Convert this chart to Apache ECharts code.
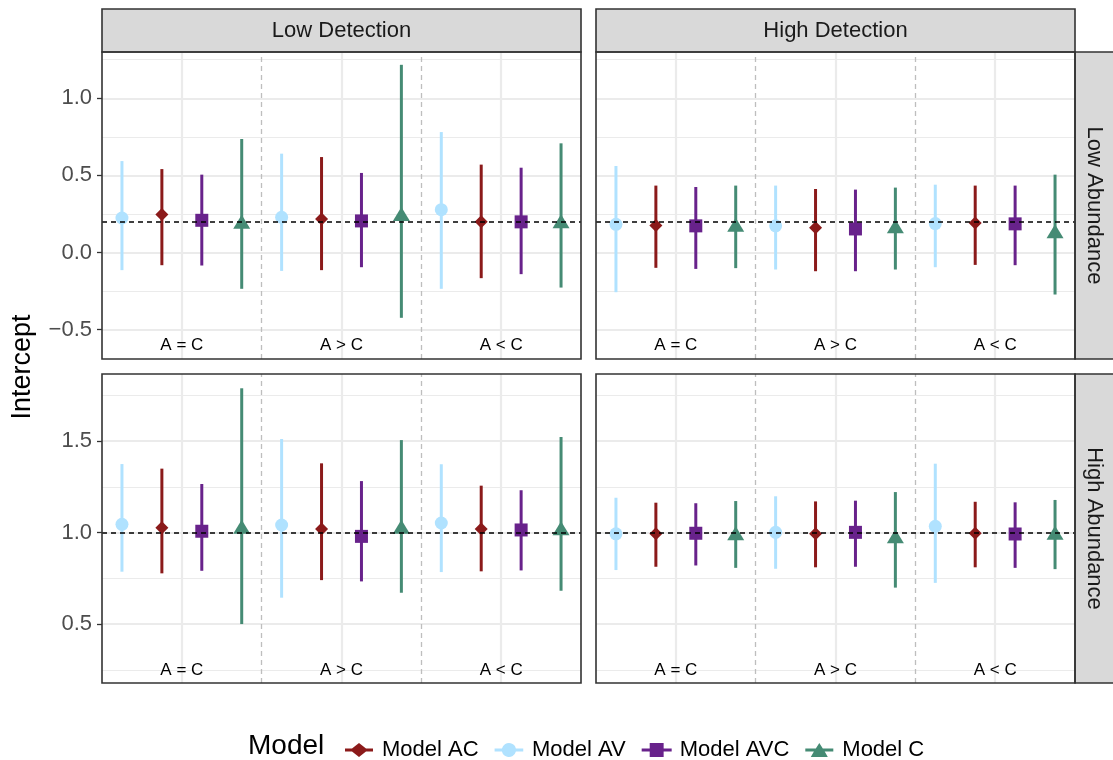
<!DOCTYPE html>
<html><head><meta charset="utf-8">
<script src="https://cdn.jsdelivr.net/npm/echarts@6/dist/echarts.min.js"></script>
<style>html,body{margin:0;padding:0;background:#fff}#c{width:1113px;height:760px}</style>
</head><body><div id="c"></div>
<script>
// ---------- data ----------
const categories = ['A = C', 'A > C', 'A < C'];
const detection = ['Low Detection', 'High Detection'];
const abundance = ['Low Abundance', 'High Abundance'];
const modelsDodge = ['Model AV', 'Model AC', 'Model AVC', 'Model C'];
const legendOrder = ['Model AC', 'Model AV', 'Model AVC', 'Model C'];
// panels: 0 = LowDet/LowAb, 1 = HighDet/LowAb, 2 = LowDet/HighAb, 3 = HighDet/HighAb
const trueIntercept = [0.2, 0.2, 1.0, 1.0];
const yTicksLowAb = [-0.5, 0.0, 0.5, 1.0];
const yTicksHighAb = [0.5, 1.0, 1.5];
// each array: 4 panels x 3 categories (A = C, A > C, A < C)
const AV_mid = [0.224, 0.229, 0.278,  0.183, 0.173, 0.188,  1.045, 1.041, 1.052,  0.993, 1.001, 1.034];
const AV_lo  = [-0.114, -0.119, -0.235, -0.257, -0.110, -0.095, 0.786, 0.644, 0.784, 0.795, 0.802, 0.725];
const AV_hi  = [0.593, 0.641, 0.781,  0.561, 0.434, 0.440,  1.374, 1.511, 1.373,  1.190, 1.198, 1.376];
const AC_mid = [0.246, 0.218, 0.199,  0.175, 0.160, 0.192,  1.026, 1.019, 1.019,  0.993, 0.993, 0.996];
const AC_lo  = [-0.082, -0.114, -0.166, -0.099, -0.121, -0.080, 0.777, 0.740, 0.788, 0.813, 0.810, 0.810];
const AC_hi  = [0.541, 0.619, 0.570,  0.434, 0.412, 0.434,  1.349, 1.378, 1.256,  1.163, 1.170, 1.168];
const AVC_mid = [0.209, 0.205, 0.199, 0.173, 0.153, 0.186,  1.007, 0.979, 1.014,  0.996, 1.001, 0.992];
const AVC_lo  = [-0.084, -0.095, -0.140, -0.106, -0.121, -0.082, 0.791, 0.733, 0.793, 0.820, 0.813, 0.807];
const AVC_hi  = [0.505, 0.516, 0.550, 0.425, 0.408, 0.434,  1.265, 1.281, 1.231,  1.160, 1.174, 1.165];
const C_mid = [0.200, 0.250, 0.203,  0.181, 0.170, 0.138,  1.032, 1.032, 1.023,  0.996, 0.979, 0.999];
const C_lo  = [-0.235, -0.423, -0.227, -0.101, -0.110, -0.272, 0.500, 0.671, 0.682, 0.807, 0.699, 0.800];
const C_hi  = [0.736, 1.217, 0.708,  0.434, 0.421, 0.505,  1.788, 1.505, 1.522,  1.172, 1.221, 1.178];

// ---------- styling / layout ----------
const FONT = 'Liberation Sans, Arial, Helvetica, sans-serif';
const modelData = {
  'Model AV':  {mid: AV_mid,  lo: AV_lo,  hi: AV_hi},
  'Model AC':  {mid: AC_mid,  lo: AC_lo,  hi: AC_hi},
  'Model AVC': {mid: AVC_mid, lo: AVC_lo, hi: AVC_hi},
  'Model C':   {mid: C_mid,   lo: C_lo,   hi: C_hi}
};
const modelStyle = {
  'Model AV':  {color: '#B0E2FF', symbol: 'circle',   size: 13},
  'Model AC':  {color: '#8B1A1A', symbol: 'diamond',  size: [13, 13]},
  'Model AVC': {color: '#68228B', symbol: 'rect',     size: 13},
  'Model C':   {color: '#458B74', symbol: 'triangle', size: [17, 14]}
};
const legendIcons = {
  'Model AC':  'path://M0,5.5L7,5.5L14,0L21,5.5L28,5.5L28,8.5L21,8.5L14,14L7,8.5L0,8.5Z',
  'Model AV':  'path://M0,5.5L7.2,5.5A7,7 0 0 1 20.8,5.5L28,5.5L28,8.5L20.8,8.5A7,7 0 0 1 7.2,8.5L0,8.5Z',
  'Model AVC': 'path://M0,5.5L7.5,5.5L7.5,0.5L20.5,0.5L20.5,5.5L28,5.5L28,8.5L20.5,8.5L20.5,13.5L7.5,13.5L7.5,8.5L0,8.5Z',
  'Model C':   'path://M0,5.5L10.5,5.5L14,0L17.5,5.5L28,5.5L28,8.5L19.4,8.5L22.5,14L5.5,14L8.6,8.5L0,8.5Z'
};

const colX = [102, 596];
const colW = 479;
const rowY = [52, 374];
const rowH = [307, 309];
const yRange = [[-0.69, 1.30], [0.178, 1.866]];
const yTicks = [yTicksLowAb, yTicksHighAb];
const labelY = [-0.60, 0.25];

const grids = [], xAxes = [], yAxes = [], series = [], graphics = [];
const fmt = v => (v < 0 ? '\u2212' : '') + Math.abs(v).toFixed(1);

for (let p = 0; p < 4; p++) {
  const col = p % 2, row = Math.floor(p / 2);
  grids.push({left: colX[col], top: rowY[row], width: colW, height: rowH[row], containLabel: false});
  xAxes.push({type: 'value', gridIndex: p, min: 0.5, max: 3.5,
    axisLine: {show: false}, axisTick: {show: false}, axisLabel: {show: false}, splitLine: {show: false}});
  const ticks = yTicks[row];
  yAxes.push({type: 'value', gridIndex: p, min: yRange[row][0], max: yRange[row][1],
    axisLine: {show: false},
    axisTick: {show: col === 0, customValues: ticks, length: 5, lineStyle: {color: '#333', width: 1.3}},
    axisLabel: {show: col === 0, customValues: ticks, formatter: fmt, margin: 10,
      fontSize: 22, color: '#4D4D4D', fontFamily: FONT},
    splitLine: {show: false}});

  // gridlines
  const step = ticks[1] - ticks[0];
  const minors = ticks.map(t => t - step / 2).concat([ticks[ticks.length - 1] + step / 2])
    .filter(v => v > yRange[row][0] && v < yRange[row][1]);
  const gl = [];
  minors.forEach(v => gl.push({yAxis: v, lineStyle: {color: '#EBEBEB', width: 1.1, type: 'solid'}}));
  ticks.forEach(v => gl.push({yAxis: v, lineStyle: {color: '#EBEBEB', width: 2.2, type: 'solid'}}));
  categories.forEach((c, i) => gl.push({xAxis: i + 1, lineStyle: {color: '#EBEBEB', width: 2.2, type: 'solid'}}));
  for (let i = 1; i < categories.length; i++) {
    gl.push({xAxis: i + 0.5, lineStyle: {color: '#BEBEBE', width: 1.3, type: [5, 4]}});
  }
  series.push({type: 'scatter', name: 'grid' + p, xAxisIndex: p, yAxisIndex: p, z: 1, silent: true,
    symbolSize: 0, data: [[2, trueIntercept[p]]],
    markLine: {z: 1, silent: true, symbol: ['none', 'none'], label: {show: false}, animation: false, data: gl}});

  // error bars + points
  modelsDodge.forEach((m, mi) => {
    const off = (mi - (modelsDodge.length - 1) / 2) * 0.25;
    const d = modelData[m], st = modelStyle[m];
    const bars = categories.map((c, ci) => [ci + 1 + off, d.lo[p * 3 + ci], d.hi[p * 3 + ci]]);
    series.push({type: 'custom', name: m + ' range', xAxisIndex: p, yAxisIndex: p, z: 2, silent: true,
      encode: {x: 0, y: [1, 2]}, data: bars,
      renderItem: (params, api) => {
        const a = api.coord([api.value(0), api.value(1)]);
        const b = api.coord([api.value(0), api.value(2)]);
        return {type: 'line', shape: {x1: a[0], y1: a[1], x2: b[0], y2: b[1]},
          style: {stroke: st.color, lineWidth: 3}};
      }});
    series.push({type: 'scatter', name: m, xAxisIndex: p, yAxisIndex: p, z: 3,
      symbol: st.symbol, symbolSize: st.size, itemStyle: {color: st.color, opacity: 1},
      data: categories.map((c, ci) => [ci + 1 + off, d.mid[p * 3 + ci]])});
  });

  // category labels inside the panel
  series.push({type: 'scatter', name: 'lab' + p, xAxisIndex: p, yAxisIndex: p, z: 4, silent: true,
    symbolSize: 2, itemStyle: {color: 'rgba(0,0,0,0)'},
    data: categories.map((c, ci) => ({value: [ci + 1, labelY[row]], name: c})),
    label: {show: true, position: 'inside', formatter: q => q.name, fontSize: 17, color: '#000',
      fontFamily: FONT, opacity: 1}});

  // true-value reference line
  series.push({type: 'scatter', name: 'ref' + p, xAxisIndex: p, yAxisIndex: p, z: 10, silent: true,
    symbolSize: 0, data: [[2, trueIntercept[p]]],
    markLine: {z: 10, silent: true, symbol: ['none', 'none'], label: {show: false}, animation: false,
      data: [{yAxis: trueIntercept[p], lineStyle: {color: '#000', width: 1.5, type: [5, 4]}}]}});

  // panel border
  graphics.push({type: 'rect', z: 100, silent: true,
    shape: {x: colX[col], y: rowY[row], width: colW, height: rowH[row]},
    style: {fill: 'none', stroke: '#333', lineWidth: 1.6}});
}

// strips
detection.forEach((t, i) => {
  graphics.push({type: 'rect', z: 99, shape: {x: colX[i], y: 9, width: colW, height: 43},
    style: {fill: '#D9D9D9', stroke: '#333', lineWidth: 1.6}});
  graphics.push({type: 'text', z: 101, x: colX[i] + colW / 2, y: 30.5,
    style: {text: t, fontSize: 22, fill: '#1A1A1A', fontFamily: FONT, align: 'center', verticalAlign: 'middle'}});
});
abundance.forEach((t, i) => {
  graphics.push({type: 'rect', z: 99, shape: {x: 1075, y: rowY[i], width: 50, height: rowH[i]},
    style: {fill: '#D9D9D9', stroke: '#333', lineWidth: 1.6}});
  graphics.push({type: 'text', z: 101, x: 1094, y: rowY[i] + rowH[i] / 2, rotation: -Math.PI / 2,
    style: {text: t, fontSize: 22, fill: '#1A1A1A', fontFamily: FONT, align: 'center', verticalAlign: 'middle'}});
});
graphics.push({type: 'text', x: 23, y: 367, rotation: Math.PI / 2,
  style: {text: 'Intercept', fontSize: 27, fill: '#000', fontFamily: FONT, align: 'center', verticalAlign: 'middle'}});
graphics.push({type: 'text', x: 248, y: 746,
  style: {text: 'Model', fontSize: 28, fill: '#000', fontFamily: FONT, align: 'left', verticalAlign: 'middle'}});

const chart = echarts.init(document.getElementById('c'), null, {renderer: 'canvas'});
chart.setOption({
  animation: false,
  backgroundColor: '#fff',
  textStyle: {fontFamily: FONT},
  grid: grids, xAxis: xAxes, yAxis: yAxes, series: series, graphic: graphics,
  legend: {
    left: 340, top: 734, itemWidth: 30, itemHeight: 14, itemGap: 16,
    textStyle: {fontSize: 22, color: '#000', fontFamily: FONT, padding: [0, 0, 0, 3]},
    data: legendOrder.map(n => ({name: n, icon: legendIcons[n]})),
    selectedMode: false
  }
});
</script></body></html>
